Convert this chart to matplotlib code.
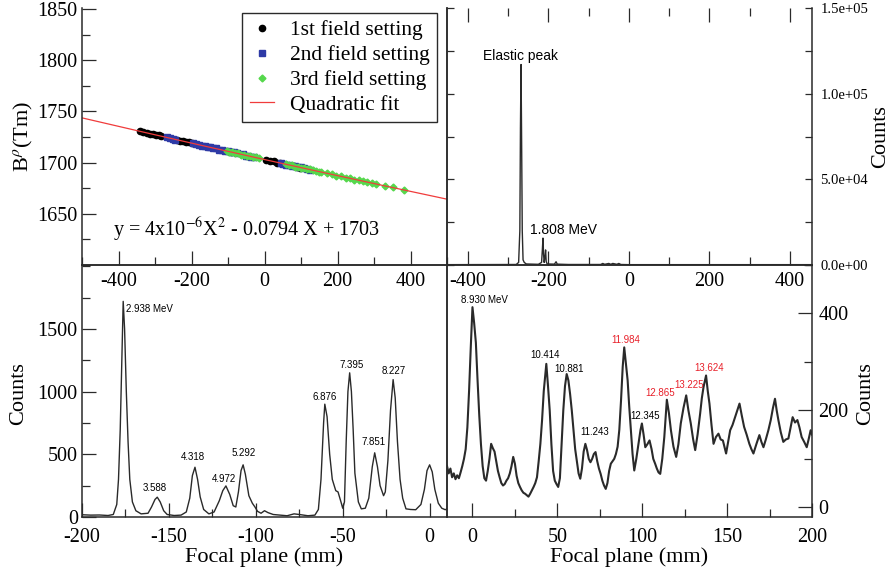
# Four-panel focal-plane calibration figure
import numpy as np
import matplotlib
matplotlib.use('Agg')
from matplotlib import pyplot as plt
from matplotlib.ticker import MultipleLocator, FormatStrFormatter

plt.rcParams['font.family'] = ['Liberation Serif', 'DejaVu Serif']
plt.rcParams['mathtext.fontset'] = 'stix'
plt.rcParams['axes.unicode_minus'] = False

# ---- top left: B-rho vs focal plane position, three field settings ----
set1_x = [-340, -332, -322, -314, -306, -298, -290, -284, -240, -232, -224, -216,
          -208, -200, -92, 5, 15, 25, 35, 42, 80, 88, 96]
set1_y = [1730.8, 1729.6, 1729.3, 1728.0, 1727.9, 1726.8, 1726.6, 1725.7, 1722.5,
          1721.4, 1721.2, 1720.1, 1719.9, 1718.8, 1710.5, 1702.8, 1701.6, 1701.2,
          1700.0, 1699.9, 1696.5, 1696.2, 1695.2]
set2_x = [-268, -260, -252, -244, -196, -188, -180, -172, -164, -156, -148, -140,
          -132, -124, -116, -108, -100, -92, -84, -76, -60, -52, -44, -36, -28,
          44, 52, 60, 68, 76, 84, 92, 100, 108, 116, 124]
set2_y = [1724.8, 1723.7, 1723.5, 1722.4, 1718.9, 1717.9, 1717.6, 1716.6, 1716.3,
          1715.3, 1715.0, 1714.0, 1713.8, 1712.7, 1712.5, 1711.4, 1711.2, 1710.1,
          1709.9, 1708.9, 1708.0, 1706.9, 1706.7, 1705.7, 1705.4, 1699.3, 1699.1,
          1698.1, 1697.8, 1696.8, 1696.6, 1695.5, 1695.3, 1694.3, 1694.0, 1693.0]
set3_x = [-104, -96, -88, -80, -72, -64, -56, -48, -40, -32, -24, -16, 60, 68, 76,
          84, 92, 100, 108, 116, 124, 132, 140, 148, 156, 170, 184, 196, 210, 222,
          234, 246, 258, 270, 282, 294, 306, 330, 352, 382]
set3_y = [1711.5, 1710.5, 1710.2, 1709.2, 1708.9, 1707.9, 1707.7, 1706.6, 1706.4,
          1705.3, 1705.1, 1704.1, 1698.5, 1697.4, 1697.2, 1696.2, 1695.9, 1694.9,
          1694.7, 1693.6, 1693.4, 1692.4, 1692.2, 1691.1, 1690.9, 1689.4, 1688.7,
          1687.4, 1686.7, 1685.4, 1684.8, 1683.5, 1683.0, 1681.7, 1681.1, 1679.8,
          1679.3, 1677.0, 1675.7, 1673.1]
fit_coef = [4e-6, -0.0794, 1703]   # y = 4e-6 X^2 - 0.0794 X + 1703

# ---- top right: full spectrum with elastic peak ----
tr_x = [-452, -280, -274, -271, -269.5, -268, -266.5, -265, -263, -260, -255, -225,
        -217, -215, -213.5, -212, -210.5, -209, -207, -205.5, -203, -185, -181,
        -178, -150, -70, -65, -60, -50, -45, -40, -30, -25, -20, 0, 455]
tr_y = [200, 300, 1500, 20000, 80000, 117000, 70000, 20000, 3000, 1500, 600, 400,
        1500, 9000, 15700, 6000, 1500, 4000, 8800, 2000, 600, 500, 1900, 500, 300,
        300, 900, 400, 900, 400, 900, 400, 900, 300, 200, 200]

# ---- bottom left: low excitation spectrum ----
bl_x = [-200, -195, -190, -185, -182, -180, -179, -178, -177, -176.3, -175.5, -174.5,
        -173.5, -172.5, -171, -169, -166, -162, -160, -158, -156.7, -155, -153, -151,
        -147, -143, -140, -138, -136.5, -135, -133.5, -132, -130, -127, -124, -121,
        -119, -117.2, -115, -113, -111.5, -110, -108.5, -107.3, -106, -104, -102,
        -100.5, -99, -97, -95, -93, -90, -86, -82, -78, -75, -70, -66, -64, -62.5,
        -61, -60.3, -59, -57.5, -56, -54, -52.7, -51, -50, -49, -48, -47, -46, -45,
        -44, -43, -41, -39.3, -37, -35, -33, -31.6, -30, -28.5, -26.5, -25.5, -24,
        -22.5, -21, -19.8, -18.5, -17, -15.5, -13.6, -11, -8, -5, -3, -1.5, 0, 1.5,
        3, 5, 7, 9, 10]
bl_y = [18, 15, 16, 12, 20, 100, 300, 700, 1300, 1720, 1500, 1000, 600, 300, 120, 50,
        25, 30, 80, 140, 158, 120, 50, 20, 12, 15, 40, 150, 330, 397, 300, 160, 60,
        25, 40, 130, 210, 248, 180, 90, 80, 200, 370, 416, 340, 170, 110, 80, 45, 30,
        50, 35, 20, 15, 10, 25, 20, 10, 15, 60, 300, 750, 900, 800, 500, 300, 210,
        200, 120, 70, 120, 600, 1000, 1150, 1000, 700, 350, 120, 65, 70, 150, 400,
        512, 400, 250, 170, 200, 450, 850, 1096, 950, 600, 300, 150, 65, 60, 58, 100,
        220, 370, 416, 360, 220, 110, 70, 58, 65]
bl_labels = ['2.938 MeV', '3.588', '4.318', '4.972', '5.292', '6.876', '7.395',
             '7.851', '8.227']
bl_label_x = [-174.7, -158.3, -136, -118.2, -107, -60.3, -44.8, -32, -20.7]
bl_label_y = [1656, 230, 475, 304, 509, 955, 1211, 595, 1163]

# ---- bottom right: high excitation spectrum ----
br_x = [-15, -14, -13, -12, -11, -10, -9, -8, -7, -6, -5, -4, -3, -2, -1, 0, 1, 2, 3,
        4, 5, 6, 7, 8, 9, 10, 11, 12, 13, 14, 15, 16, 17, 18, 19, 20, 21, 22, 23, 24,
        25, 26, 27, 28, 29, 30, 31, 32, 33, 34, 35, 36, 37, 38, 39, 40, 41, 42, 43.5,
        44.5, 45.5, 46.5, 47.5, 48.5, 49.5, 50.5, 51.5, 52.5, 53.5, 54.5, 55.5, 56.5,
        57.5, 58.5, 59.5, 60.5, 61.5, 62.5, 63.5, 64.5, 65.5, 66.5, 67.5, 68.5, 69.5,
        70.5, 71.5, 72.5, 73.5, 74.5, 75.5, 76.5, 77.5, 78.5, 79.5, 80.5, 81.5, 82.5,
        83.5, 84.5, 85.5, 86.5, 87.5, 88.5, 89.4, 90.3, 91.4, 92.3, 93.3, 94.3, 95.3,
        96.5, 97.8, 99, 99.8, 100.8, 101.8, 103, 104.3, 105.5, 106.5, 107.6, 108.6,
        109.6, 110.6, 111.8, 113, 114.5, 115.7, 116.9, 118.4, 120, 121.3, 122.7,
        124.3, 125.9, 127.2, 128.6, 130, 131.2, 132.6, 134.1, 135.1, 136.1, 137.6,
        138.6, 139.6, 140.8, 142, 143.4, 144.9, 146.2, 147.5, 148.4, 149.4, 150.6,
        151.8, 153.2, 154.7, 156, 157.3, 158.6, 160, 161.5, 163.1, 164.3, 165.5,
        167.2, 169, 170.2, 171.4, 172.8, 174.3, 175.7, 177, 178.2, 179.2, 180.2,
        181.6, 183.1, 184.6, 186.1, 187.4, 188.6, 190, 191.4, 192.6, 193.9, 195.4,
        196.9, 198, 199.2, 200]
br_y = [85, 70, 80, 62, 70, 58, 66, 60, 72, 85, 100, 120, 165, 240, 330, 413, 380,
        340, 262, 190, 130, 85, 60, 55, 75, 100, 131, 122, 115, 95, 75, 62, 50, 45,
        48, 55, 60, 70, 85, 104, 90, 65, 50, 42, 35, 30, 28, 25, 22, 28, 35, 42, 50,
        62, 95, 131, 180, 240, 296, 250, 200, 130, 75, 55, 48, 42, 60, 130, 200, 250,
        275, 262, 234, 200, 160, 120, 95, 70, 59, 80, 115, 131, 118, 100, 93, 100,
        110, 114, 95, 80, 69, 55, 45, 38, 50, 75, 90, 95, 100, 110, 125, 160, 220,
        290, 330, 300, 262, 210, 159, 110, 76, 100, 131, 160, 173, 150, 124, 130, 138,
        120, 100, 90, 80, 72, 69, 100, 145, 222, 195, 159, 125, 104, 130, 173, 205,
        231, 200, 173, 140, 118, 150, 193, 225, 248, 272, 240, 214, 170, 131, 145,
        152, 140, 138, 125, 111, 135, 159, 170, 186, 200, 214, 190, 166, 150, 131,
        120, 111, 130, 149, 135, 124, 140, 159, 180, 205, 224, 200, 180, 155, 135,
        140, 142, 165, 186, 175, 180, 165, 145, 135, 124, 140, 159, 150]
br_labels = ['8.930 MeV', '10.414', '10.881', '11.243', '11.984', '12.345', '12.865',
             '13.225', '13.624']
br_label_x = [-7, 42.5, 57, 71.8, 90, 101.5, 110.3, 127.6, 139.4]
br_label_y = [428, 315, 286, 155, 346, 188, 236, 253, 288]
br_label_red = [False, False, False, False, True, False, True, True, True]

ink = '#2a2a2a'
red = '#e8202a'
sans = ['Liberation Sans', 'DejaVu Sans']

W, H = 893, 576
fig = plt.figure(figsize=(W / 100, H / 100), dpi=100)


def box(x0, y0, x1, y1):
    return [x0 / W, 1 - y1 / H, (x1 - x0) / W, (y1 - y0) / H]


def style(ax):
    ax.patch.set_alpha(0)
    for s in ax.spines.values():
        s.set_color(ink)
        s.set_linewidth(1.1)
    ax.tick_params(which='both', direction='in', color=ink, width=0.9,
                   labelsize=14.5, labelcolor='black')
    ax.tick_params(which='major', length=10)
    ax.tick_params(which='minor', length=5.5)


# bottom panels first so the top panels' tick labels are drawn over them
ax_bl = fig.add_axes(box(82, 265, 447, 517))
ax_br = fig.add_axes(box(447, 265, 812, 517))
ax_tl = fig.add_axes(box(82, 8, 447, 265))
ax_tr = fig.add_axes(box(447, 8, 812, 265))
for ax in (ax_bl, ax_br, ax_tl, ax_tr):
    style(ax)

# top left
ax_tl.plot(set1_x, set1_y, 'o', color='black', ms=4.5, label='1st field setting')
ax_tl.plot(set2_x, set2_y, 's', color='#2e3aa6', ms=4, label='2nd field setting')
ax_tl.plot(set3_x, set3_y, 'D', color='#55d84c', ms=3.5, label='3rd field setting')
fx = np.linspace(-500, 500, 200)
ax_tl.plot(fx, np.polyval(fit_coef, fx), color='#f03c3c', lw=0.9, label='Quadratic fit')
ax_tl.set_xlim(-500, 500)
ax_tl.set_ylim(1600, 1851)
ax_tl.set_xticks([-400, -200, 0, 200, 400])
ax_tl.xaxis.set_minor_locator(MultipleLocator(100))
ax_tl.set_yticks([1650, 1700, 1750, 1800, 1850])
ax_tl.yaxis.set_minor_locator(MultipleLocator(25))
ax_tl.tick_params(axis='x', pad=5)
ax_tl.tick_params(axis='y', pad=3)
ax_tl.spines['top'].set_visible(False)
ax_tl.set_ylabel('B$^{\\rho}$(Tm)', fontsize=16)
ax_tl.yaxis.set_label_coords(-0.13, 0.5)
ax_tl.text(-415, 1634, 'y = 4x10$^{-6}$X$^{2}$ - 0.0794 X + 1703', fontsize=14.5,
           ha='left', va='center')
leg = ax_tl.legend(loc='upper right', bbox_to_anchor=(0.973, 0.981), borderaxespad=0,
                   fontsize=15.5, handlelength=1.1, handletextpad=0.75,
                   borderpad=0.35, labelspacing=0.22, fancybox=False, framealpha=1)
leg.get_frame().set_edgecolor(ink)
leg.get_frame().set_linewidth(1)

# top right
ax_tr.plot(tr_x, tr_y, color=ink, lw=1)
ax_tr.set_xlim(-452, 455)
ax_tr.set_ylim(0, 1.5e5)
ax_tr.set_xticks([-400, -200, 0, 200, 400])
ax_tr.xaxis.set_minor_locator(MultipleLocator(100))
ax_tr.set_yticks([0, 5e4, 1e5, 1.5e5])
ax_tr.yaxis.set_minor_locator(MultipleLocator(2.5e4))
ax_tr.yaxis.set_major_formatter(FormatStrFormatter('%.1e'))
ax_tr.spines['top'].set_visible(False)
ax_tr.tick_params(axis='x', which='both', top=True, pad=5)
ax_tr.tick_params(axis='y', which='both', left=True, right=True, labelleft=False,
                  labelright=True, labelsize=10.5, length=5, pad=6)
ax_tr.yaxis.set_label_position('right')
ax_tr.set_ylabel('Counts', fontsize=16)
ax_tr.yaxis.set_label_coords(1.163, 0.5)
ax_tr.text(-363, 121800, 'Elastic peak', family=sans, fontsize=10, ha='left',
           va='center')
ax_tr.text(-245, 20600, '1.808 MeV', family=sans, fontsize=10, ha='left', va='center')

# bottom left
ax_bl.plot(bl_x, bl_y, color=ink, lw=1)
ax_bl.set_xlim(-200, 10)
ax_bl.set_ylim(0, 2010)
ax_bl.set_xticks([-200, -150, -100, -50, 0])
ax_bl.xaxis.set_minor_locator(MultipleLocator(25))
ax_bl.set_yticks([0, 500, 1000, 1500])
ax_bl.yaxis.set_minor_locator(MultipleLocator(250))
ax_bl.tick_params(axis='x', pad=8)
ax_bl.tick_params(axis='y', pad=3)
ax_bl.set_xlabel('Focal plane (mm)', fontsize=16)
ax_bl.xaxis.set_label_coords(0.5, -0.12)
ax_bl.set_ylabel('Counts', fontsize=16)
ax_bl.yaxis.set_label_coords(-0.148, 0.49)
for s, x, y in zip(bl_labels, bl_label_x, bl_label_y):
    ax_bl.text(x, y, s, family=sans, fontsize=7, ha='left' if 'MeV' in s else 'center',
               va='center')

# bottom right
ax_br.plot(br_x, br_y, color=ink, lw=1.5)
ax_br.set_xlim(-15, 200)
ax_br.set_ylim(-20, 500)
ax_br.set_xticks([0, 50, 100, 150, 200])
ax_br.xaxis.set_minor_locator(MultipleLocator(25))
ax_br.set_yticks([0, 200, 400])
ax_br.yaxis.set_minor_locator(MultipleLocator(100))
ax_br.tick_params(axis='x', pad=8)
ax_br.tick_params(axis='y', which='both', left=False, right=True, labelleft=False,
                  labelright=True, pad=4.5)
ax_br.set_xlabel('Focal plane (mm)', fontsize=16)
ax_br.xaxis.set_label_coords(0.5, -0.12)
ax_br.yaxis.set_label_position('right')
ax_br.set_ylabel('Counts', fontsize=16)
ax_br.yaxis.set_label_coords(1.122, 0.49)
for s, x, y, r in zip(br_labels, br_label_x, br_label_y, br_label_red):
    ax_br.text(x, y, s, family=sans, fontsize=7, color=red if r else 'black',
               ha='left' if 'MeV' in s else 'center', va='center')

fig.savefig('out.png', dpi=100)
